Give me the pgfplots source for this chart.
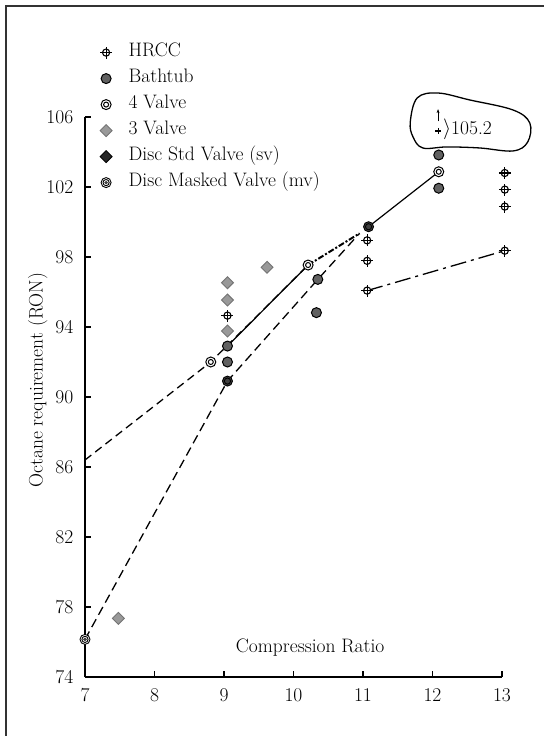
\documentclass[border=0pt]{standalone}
\usepackage{fontspec}
\setmainfont{Latin Modern Roman}
\usepackage{pgfplots}
\pgfplotsset{compat=1.18}
\usetikzlibrary{arrows.meta}

\newcommand\bigfont{\fontsize{19.5}{23}\selectfont}

\pgfdeclareplotmark{hrcc}{%
  \pgfpathcircle{\pgfpointorigin}{0.6\pgfplotmarksize}%
  \pgfusepathqfillstroke
  \pgfpathmoveto{\pgfqpoint{-\pgfplotmarksize}{0pt}}\pgfpathlineto{\pgfqpoint{\pgfplotmarksize}{0pt}}%
  \pgfpathmoveto{\pgfqpoint{0pt}{-\pgfplotmarksize}}\pgfpathlineto{\pgfqpoint{0pt}{\pgfplotmarksize}}%
  \pgfusepathqstroke}
\pgfdeclareplotmark{dblcircle}{%
  \pgfpathcircle{\pgfpointorigin}{\pgfplotmarksize}\pgfusepathqfillstroke
  \pgfpathcircle{\pgfpointorigin}{0.5\pgfplotmarksize}\pgfusepathqstroke}
\pgfdeclareplotmark{masked}{%
  \pgfpathcircle{\pgfpointorigin}{\pgfplotmarksize}\pgfusepathqfillstroke
  \pgfpathcircle{\pgfpointorigin}{0.62\pgfplotmarksize}\pgfusepathqstroke
  \pgfsetfillcolor{black!75}%
  \pgfpathcircle{\pgfpointorigin}{0.38\pgfplotmarksize}\pgfusepathqfill}

\begin{document}
\bigfont
\begin{tikzpicture}[font=\bigfont]
\useasboundingbox (-85pt,-59pt) rectangle (459pt,677pt);
\begin{axis}[
  at={(0pt,0pt)}, anchor=south west,
  scale only axis, width=417pt, height=560pt,
  xmin=7, xmax=13, ymin=74, ymax=106,
  axis lines*=left,
  xtick={7,8,...,13}, ytick={74,78,...,106},
  tick align=inside,
  major tick length=6pt,
  tick style={line width=1.2pt, black},
  axis line style={line width=2pt},
  /pgf/number format/assume math mode=true,
  xticklabel={\bigfont\pgfmathprintnumber[assume math mode=true]{\tick}},
  yticklabel={\bigfont\pgfmathprintnumber[assume math mode=true]{\tick}},
  every tick label/.append style={font=\bigfont},
  yticklabel style={xshift=-5pt},
  xticklabel style={yshift=-5pt},
  xlabel={\bigfont Compression Ratio},
  xlabel style={at={(axis description cs:0.54,0.052)}, anchor=center, font=\bigfont},
  ylabel={\bigfont Octane requirement (RON)},
  ylabel style={at={(axis description cs:-0.113,0.53)}, anchor=center, font=\bigfont},
  clip=false,
  legend cell align=left,
  legend image code/.code={\draw[#1] plot coordinates {(0.3cm,0cm)}; \path (0cm,0cm) (1.05cm,0cm);},
  legend style={draw=none, fill=none, at={(axis description cs:0.022,1.135)}, anchor=north west,
    font=\bigfont, row sep=8pt,
    nodes={inner sep=1pt, text height=12pt, text depth=4pt}},
]
% connecting lines
\addplot[forget plot, black, line width=1.3pt, dash pattern=on 8pt off 5pt] coordinates {(7,86.4) (8.81,92.0) (10.21,97.54)};
\addplot[forget plot, black, line width=1.3pt, dash pattern=on 9pt off 5pt] coordinates {(7,76.15) (9.05,90.91) (10.35,96.72) (10.95,99.35)};
\addplot[forget plot, black, line width=1.2pt] coordinates {(9.05,92.91) (10.21,97.54)};
\addplot[forget plot, black, line width=2pt, dash pattern=on 6pt off 2pt on 2pt off 2pt] coordinates {(10.21,97.54) (10.95,99.35)};
\addplot[forget plot, black, line width=1.2pt] coordinates {(11.08,99.73) (12.09,102.87)};
\addplot[forget plot, black, line width=1.3pt, dash pattern=on 16pt off 5pt on 3pt off 5pt] coordinates {(11.06,96.08) (13.04,98.36)};

% HRCC
\addplot[only marks, mark=hrcc, mark size=6pt, mark options={draw=black, fill=white, line width=1.1pt}]
  coordinates {(9.05,94.65) (11.06,98.95) (11.06,97.78) (11.06,96.08) (13.04,102.8) (13.04,101.85) (13.04,100.88) (13.04,98.36)};
\addlegendentry{HRCC}
% Bathtub
\addplot[only marks, mark=*, mark size=5pt, mark options={draw=black, fill=black!62, line width=1pt}]
  coordinates {(9.05,92.91) (9.05,92.0) (10.35,96.72) (10.33,94.82) (12.09,103.83) (12.09,101.93)};
\addlegendentry{Bathtub}
% 4 Valve
\addplot[only marks, mark=dblcircle, mark size=5pt, mark options={draw=black, fill=white, line width=1pt}]
  coordinates {(8.81,92.0) (10.21,97.54) (12.09,102.87)};
\addlegendentry{4 Valve}
% 3 Valve
\addplot[only marks, mark=square*, mark size=4.2pt, mark options={rotate=45, draw=black!55, fill=black!40, line width=0.9pt}]
  coordinates {(9.05,96.53) (9.05,95.54) (9.05,93.77) (9.62,97.41) (7.48,77.35)};
\addlegendentry{3 Valve}
% Disc Std Valve (legend only)
\addlegendimage{only marks, mark=square*, mark size=4.2pt, mark options={rotate=45, draw=black, fill=black!85, line width=0.9pt}}
\addlegendentry{Disc Std Valve (sv)}
% Disc Masked Valve
\addplot[only marks, mark=masked, mark size=5pt, mark options={draw=black, fill=white, line width=0.9pt}]
  coordinates {(7,76.15) (9.05,90.91) (11.08,99.73)};
\addlegendentry{Disc Masked Valve (mv)}

% off-scale HRCC point, 105.2
\addplot[forget plot, only marks, mark=+, mark size=3pt, mark options={line width=1.1pt, black}] coordinates {(12.08,105.2)};
\draw[-{Stealth[length=4pt]}, line width=1.1pt] (axis cs:12.08,105.75) -- (axis cs:12.08,106.45);
\node[anchor=west, inner sep=0pt, font=\bigfont] at (axis cs:12.15,105.3) {$\rangle$105.2};
\draw[line width=1.3pt, black] plot[smooth cycle, tension=0.6] coordinates {
  (axis cs:11.68,105.71) (axis cs:11.78,107.09) (axis cs:12.08,107.37) (axis cs:12.54,106.97)
  (axis cs:13.16,106.4) (axis cs:13.40,105.66) (axis cs:13.37,104.57) (axis cs:13.16,104.06)
  (axis cs:12.68,104.23) (axis cs:12.21,104.29) (axis cs:11.86,104.23) (axis cs:11.72,104.86)};
\end{axis}
\draw[line width=1.5pt, black!80] (-79pt,-59pt) -- (-79pt,671pt) -- (459pt,671pt);
\end{tikzpicture}
\end{document}
